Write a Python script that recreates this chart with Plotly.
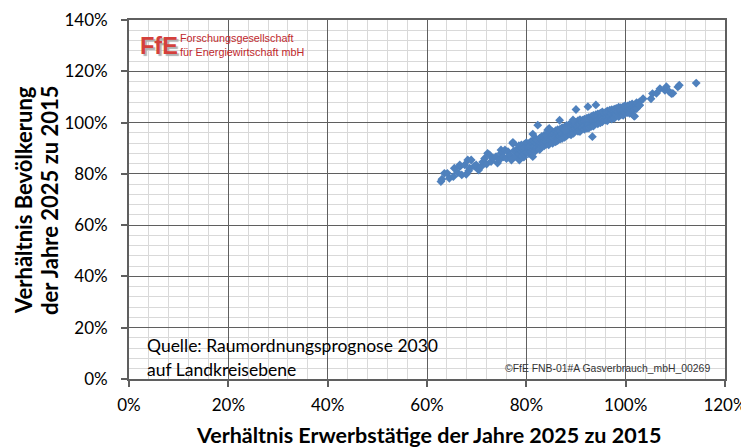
import plotly.graph_objects as go

# Verhältnis Erwerbstätige (x, %) und Bevölkerung (y, %) 2025 zu 2015 je Landkreis
tail_left_x = [62.8, 63.0, 63.5, 64.1, 64.5, 65.3, 65.5, 66.2, 66.6, 66.6, 67.0, 67.6, 67.9, 68.2, 68.4,
               68.6, 68.9, 69.5, 69.9, 70.4, 70.9, 71.2, 71.6, 72.0, 72.2, 72.6, 72.9, 73.3, 73.9, 74.2,
               74.6, 74.9, 74.9, 75.4, 75.7, 76.0, 76.3, 76.7, 77.0, 77.3, 77.3, 77.5, 77.9, 78.2, 78.6,
               78.7, 79.0, 79.0, 79.5, 79.9]
tail_left_y = [77.0, 77.9, 80.2, 80.2, 78.3, 78.9, 82.2, 80.4, 82.8, 83.5, 79.6, 83.5, 79.8, 85.4, 81.2,
               82.2, 85.4, 83.0, 83.5, 81.5, 82.8, 84.6, 86.0, 83.8, 88.0, 87.4, 84.8, 86.1, 86.7, 84.2,
               85.5, 88.0, 89.3, 86.6, 89.3, 86.0, 88.7, 87.3, 85.4, 92.3, 91.9, 88.9, 86.8, 89.6, 85.4,
               88.2, 91.3, 90.6, 86.5, 89.5]

core_x = ([78.5] * 3 + [79.1] * 3 + [79.6] * 4 + [80.0] * 3 + [80.5] * 4 + [80.9] * 4 + [81.4] * 4
          + [81.8] * 4 + [82.2] * 4 + [82.7] * 5 + [83.1] * 4 + [83.6] * 5 + [84.0] * 4 + [84.5] * 5
          + [84.9] * 4 + [85.3] * 5 + [85.9] * 5 + [86.3] * 5 + [86.8] * 5 + [87.2] * 5 + [87.7] * 5
          + [88.1] * 5 + [88.6] * 5 + [89.0] * 5 + [89.5] * 6 + [89.9] * 5 + [90.4] * 5 + [90.8] * 6
          + [91.3] * 5 + [91.7] * 6 + [92.2] * 5 + [92.6] * 6 + [93.1] * 5 + [93.5] * 6 + [94.0] * 5
          + [94.4] * 6 + [94.9] * 5 + [95.3] * 6 + [95.9] * 5 + [96.3] * 6 + [96.8] * 5 + [97.2] * 5
          + [97.7] * 5 + [98.1] * 5 + [98.6] * 5 + [99.0] * 4 + [99.5] * 5 + [99.9] * 4 + [100.4] * 4
          + [100.8] * 4 + [101.3] * 3 + [101.7] * 3 + [102.2] * 3 + [102.8] * 2)
core_y = [87.6, 89.9, 91.0,
          88.4, 90.1, 86.9,
          89.0, 91.5, 87.7, 90.4,
          88.3, 90.9, 92.2,
          89.6, 91.8, 87.9, 90.5,
          90.2, 92.6, 88.6, 91.1,
          89.4, 91.7, 93.0, 90.6,
          90.9, 88.9, 92.3, 94.0,
          91.6, 89.8, 93.1, 90.4,
          92.0, 90.3, 93.9, 91.2, 89.5,
          91.7, 93.3, 90.8, 94.6,
          92.8, 90.9, 94.2, 91.9, 95.1,
          93.4, 91.5, 95.0, 92.4,
          93.9, 92.2, 95.4, 91.3, 94.7,
          94.4, 92.6, 96.1, 93.5,
          93.1, 95.2, 91.9, 94.0, 96.5,
          95.0, 93.3, 96.8, 94.3, 92.5,
          95.7, 94.0, 97.2, 93.0, 96.3,
          95.3, 93.6, 97.4, 94.8, 96.6,
          96.2, 94.5, 98.0, 95.4, 93.8,
          96.7, 95.0, 98.3, 94.2, 97.4,
          97.1, 95.4, 98.9, 96.2, 94.8,
          96.6, 98.4, 95.5, 97.7, 99.2,
          97.6, 96.0, 99.4, 95.2, 98.3,
          98.0, 96.4, 99.8, 97.2, 95.8, 98.9,
          98.4, 96.9, 100.2, 97.7, 99.3,
          97.9, 99.6, 96.6, 98.8, 100.7,
          98.6, 97.2, 100.4, 99.4, 96.5, 101.1,
          99.2, 97.6, 100.9, 98.2, 99.9,
          99.6, 98.1, 101.3, 97.4, 100.5, 98.8,
          99.9, 98.4, 101.7, 100.6, 97.8,
          100.3, 98.9, 102.0, 99.5, 101.2, 97.9,
          100.8, 99.3, 102.4, 98.5, 101.5,
          100.4, 101.9, 99.0, 102.8, 100.9, 98.6,
          101.3, 99.8, 103.1, 100.6, 102.2,
          101.7, 100.2, 103.4, 99.5, 102.6, 101.0,
          102.1, 100.6, 103.7, 101.4, 99.9,
          101.8, 103.3, 100.3, 102.6, 104.2, 101.1,
          102.6, 101.0, 104.0, 101.9, 103.3,
          102.9, 101.5, 104.5, 102.2, 100.7, 103.7,
          103.2, 101.8, 104.8, 102.5, 103.9,
          102.8, 104.2, 101.4, 103.5, 105.0,
          103.6, 102.2, 105.2, 104.3, 101.7,
          104.0, 102.6, 105.5, 103.2, 104.7,
          103.7, 105.1, 102.3, 104.4, 106.0,
          104.3, 103.0, 105.8, 104.9,
          104.7, 103.3, 106.2, 105.4, 102.8,
          104.4, 105.9, 103.7, 106.6,
          105.1, 103.9, 106.5, 104.6,
          105.4, 104.2, 106.9, 103.6,
          105.8, 104.7, 107.3,
          106.1, 105.0, 102.5,
          106.6, 105.5, 107.8,
          106.9, 108.1]

outlier_x = [81.3, 82.3, 84.3, 84.6, 86.7, 87.7, 89.4, 90.0, 92.4, 94.0, 81.3, 93.3, 101.8, 77.3]
outlier_y = [95.5, 99.0, 97.1, 97.7, 100.9, 97.1, 101.0, 105.1, 106.2, 106.9, 86.7, 94.5, 102.5, 91.9]

tail_right_x = [102.8, 103.5, 105.1, 105.4, 106.2, 106.9, 107.9, 108.2, 108.8, 109.2, 109.5, 110.5,
                110.8, 114.2]
tail_right_y = [106.7, 109.3, 109.3, 111.3, 111.4, 113.2, 112.6, 114.0, 112.0, 111.3, 111.4, 113.9,
                114.6, 115.4]

x_vals = tail_left_x + core_x + outlier_x + tail_right_x
y_vals = tail_left_y + core_y + outlier_y + tail_right_y

x_title = "Verhältnis Erwerbstätige der Jahre 2025 zu 2015"
y_title_lines = ["Verhältnis Bevölkerung", "der Jahre 2025 zu 2015"]
source_lines = ["Quelle: Raumordnungsprognose 2030", "auf Landkreisebene"]
copyright_text = "©FfE FNB-01#A Gasverbrauch_mbH_00269"
logo_mark = "FfE"
logo_lines = ["Forschungsgesellschaft", "für Energiewirtschaft mbH"]

MAJOR = "#5f5f5f"
MINOR = "#d9d9d9"
FONT = "Lato, Carlito, 'Open Sans', sans-serif"
SANS = "'Liberation Sans', Arial, sans-serif"

fig = go.Figure(go.Scatter(
    x=x_vals, y=y_vals, mode="markers",
    marker=dict(symbol="diamond", size=6.8, color="#4F81BD", line=dict(width=0)),
    showlegend=False, hoverinfo="skip"))

axis_common = dict(
    showgrid=True, gridcolor=MAJOR, gridwidth=1.3,
    showline=True, linecolor=MAJOR, linewidth=1.8, mirror=True,
    ticks="outside", ticklen=6, tickcolor=MAJOR, tickwidth=1.8,
    zeroline=False, ticksuffix="%", automargin=False,
    tickfont=dict(family=FONT, size=17, color="#000000"),
)

fig.update_xaxes(range=[0, 120], dtick=20, tick0=0, ticklabelstandoff=4,
                 minor=dict(dtick=4, showgrid=True, gridcolor=MINOR, gridwidth=1, ticks=""),
                 **axis_common)
fig.update_yaxes(range=[0, 140], dtick=20, tick0=0, ticklabelstandoff=10,
                 minor=dict(dtick=4, showgrid=True, gridcolor=MINOR, gridwidth=1, ticks=""),
                 **axis_common)

# plot area in the photographed page: x 129.5..725.5, y 20..379
def px_x(p):
    return (p - 129.5) / 596.0

def px_y(p):
    return (379 - p) / 359.0

def note(text, x, y, xanchor, size, family=FONT, color="#000000", bold=False, angle=0, shadow=None):
    font = dict(family=family, size=size, color=color, weight="bold" if bold else "normal")
    if shadow:
        font["shadow"] = shadow
    return dict(text=text, x=px_x(x), y=px_y(y), xref="paper", yref="paper",
                xanchor=xanchor, yanchor="middle", showarrow=False, textangle=angle,
                font=font)

annotations = [
    note(x_title, 429, 435, "center", 21.5, bold=True),
    note(y_title_lines[0], 23.5, 200, "center", 22, bold=True, angle=-90),
    note(y_title_lines[1], 49.5, 200, "center", 22, bold=True, angle=-90),
    note(source_lines[0], 145, 345, "left", 17.5),
    note(source_lines[1], 145, 369, "left", 17.5),
    note(copyright_text, 712, 368, "right", 10.4, family=SANS, color="#333333"),
    note(logo_mark, 138, 46, "left", 23.5, family=SANS, color="#d4403c", bold=True,
         shadow="2px 2px 1px #b0b0b0"),
    note(logo_lines[0], 178.5, 38, "left", 10.8, family=SANS, color="#c0282d"),
    note(logo_lines[1], 178.5, 52.5, "left", 10.8, family=SANS, color="#c0282d"),
]

fig.update_layout(
    width=749, height=448,
    margin=dict(l=121, r=32, t=12, b=77),
    paper_bgcolor="#ffffff", plot_bgcolor="#ffffff",
    annotations=annotations,
)

fig.write_html("out.html")
